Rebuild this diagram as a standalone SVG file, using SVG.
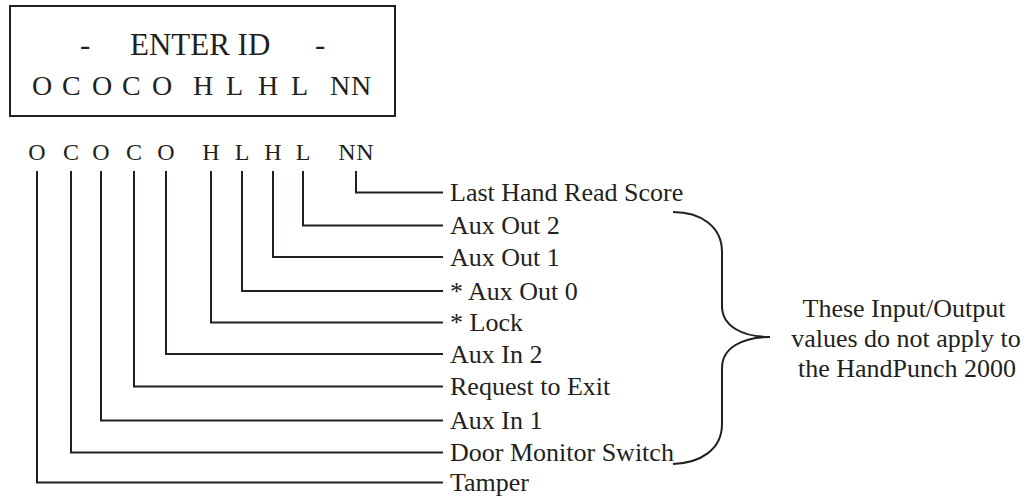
<svg xmlns="http://www.w3.org/2000/svg" width="1026" height="496" viewBox="0 0 1026 496">
<style>
text { font-family: "Liberation Serif", "Times New Roman", serif; fill: #231f20; }
.lbl { font-size: 26px; }
.row { font-size: 24px; }
.box { font-size: 31px; }
.box2 { font-size: 28px; }
.ln { fill: none; stroke: #231f20; stroke-width: 2; }
</style>
<rect width="1026" height="496" fill="#ffffff"/>
<g id="display">
  <rect class="ln" x="10" y="6" width="385" height="110"/>
  <text class="box" y="55"><tspan x="80">-</tspan><tspan x="130">ENTER ID</tspan><tspan x="315">-</tspan></text>
  <text class="box2" y="95" x="32 62 92 122 152 175 193 226 258 291 312 330 351">OCOCO HLHL NN</text>
</g>
<g id="code-row">
  <text class="row" y="160" text-anchor="middle" x="37 54 71 86 101 118 134 150 166 190 211 226 242 258 273 288 303 325 347 365">O C O C O H L H L NN</text>
</g>
<g id="connectors">
  <path class="ln" d="M356,171 V192.5 H443"/>
  <path class="ln" d="M303,171 V225.5 H443"/>
  <path class="ln" d="M273,171 V257 H443"/>
  <path class="ln" d="M242,171 V291 H443"/>
  <path class="ln" d="M211,171 V322.5 H443"/>
  <path class="ln" d="M166,171 V354 H443"/>
  <path class="ln" d="M134,171 V386.5 H443"/>
  <path class="ln" d="M101,171 V420.5 H443"/>
  <path class="ln" d="M71,171 V452.5 H443"/>
  <path class="ln" d="M37,171 V482.5 H443"/>
</g>
<g id="labels">
  <text class="lbl" x="450" y="201">Last Hand Read Score</text>
  <text class="lbl" x="450" y="234">Aux Out 2</text>
  <text class="lbl" x="450" y="265.5">Aux Out 1</text>
  <text class="lbl" x="450" y="299.5">* Aux Out 0</text>
  <text class="lbl" x="450" y="331">* Lock</text>
  <text class="lbl" x="450" y="362.5">Aux In 2</text>
  <text class="lbl" x="450" y="395">Request to Exit</text>
  <text class="lbl" x="450" y="429">Aux In 1</text>
  <text class="lbl" x="450" y="461">Door Monitor Switch</text>
  <text class="lbl" x="450" y="491">Tamper</text>
</g>
<g id="brace">
  <path class="ln" d="M673,212 C700,212 722,226 722,252 V306 C722,326 742,337 770,337 C742,337 722,348 722,368 V424 C722,450 700,463 673,464"/>
</g>
<g id="note">
  <text class="lbl" text-anchor="middle" x="904" y="317">These Input/Output</text>
  <text class="lbl" text-anchor="middle" x="906" y="347">values do not apply to</text>
  <text class="lbl" text-anchor="middle" x="907" y="377">the HandPunch 2000</text>
</g>
</svg>
